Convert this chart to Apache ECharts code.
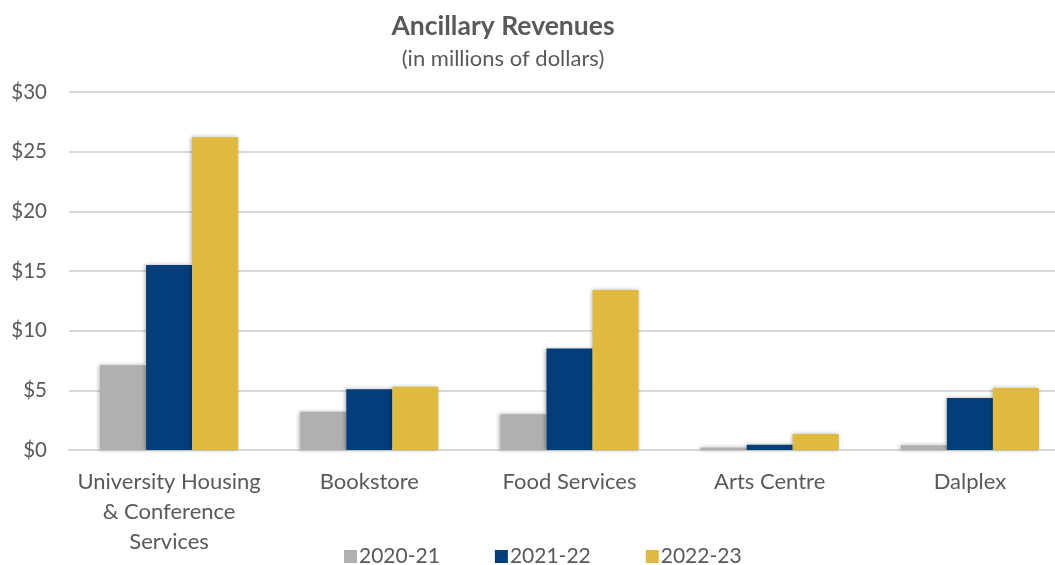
<!DOCTYPE html>
<html>
<head>
<meta charset="utf-8">
<script src="https://cdn.jsdelivr.net/npm/echarts@6/dist/echarts.min.js"></script>
<style>html,body{margin:0;padding:0;background:#fff;overflow:hidden}#c{width:1070px;height:565px}</style>
</head>
<body>
<div id="c"></div>
<script>
const categories = ['University Housing\n& Conference\nServices', 'Bookstore', 'Food Services', 'Arts Centre', 'Dalplex'];
const seriesNames = ['2020-21', '2021-22', '2022-23'];
const values2020 = [7.1, 3.2, 3.0, 0.2, 0.4];
const values2021 = [15.5, 5.1, 8.5, 0.45, 4.35];
const values2022 = [26.2, 5.3, 13.4, 1.35, 5.2];
const yTicks = [0, 5, 10, 15, 20, 25, 30];
const colors = ['#B0B0B0', '#043E7A', '#E0BA3E'];

const font = 'Lato, "Open Sans", sans-serif';
const chart = echarts.init(document.getElementById('c'));
const data = [values2020, values2021, values2022];
chart.setOption({
  animation: false,
  title: {
    text: 'Ancillary Revenues',
    subtext: '(in millions of dollars)',
    left: 498, textAlign: 'center', top: 8,
    itemGap: 8,
    textStyle: {fontFamily: font, fontSize: 26.5, fontWeight: 'bold', color: '#595959'},
    subtextStyle: {fontFamily: font, fontSize: 22, color: '#595959'}
  },
  legend: {
    top: 541, left: 339,
    itemWidth: 13, itemHeight: 13, itemGap: 55,
    icon: 'rect',
    textStyle: {fontFamily: font, fontSize: 21, color: '#595959', padding: [0,0,0,-3]},
    data: seriesNames
  },
  grid: {left: 69, right: 0, top: 92, bottom: 115},
  xAxis: {
    type: 'category', data: categories,
    axisLine: {lineStyle: {color: '#D9D9D9', width: 2}},
    axisTick: {show: false},
    axisLabel: {fontFamily: font, fontSize: 22, color: '#595959', lineHeight: 30, margin: 17, interval: 0}
  },
  yAxis: {
    type: 'value', min: 0, max: 30, interval: 5,
    axisLabel: {fontFamily: font, fontSize: 20.5, color: '#595959', formatter: v => '$' + v, margin: 22},
    splitLine: {lineStyle: {color: '#D9D9D9', width: 2}},
    axisLine: {show: false}, axisTick: {show: false}
  },
  series: seriesNames.map((n, i) => ({
    name: n, type: 'bar', data: data[i],
    barGap: '0%', barCategoryGap: '31%',
    itemStyle: {color: colors[i], shadowBlur: 4, shadowColor: 'rgba(0,0,0,0.3)', shadowOffsetX: -1, shadowOffsetY: 0}
  }))
});
</script>
</body>
</html>
